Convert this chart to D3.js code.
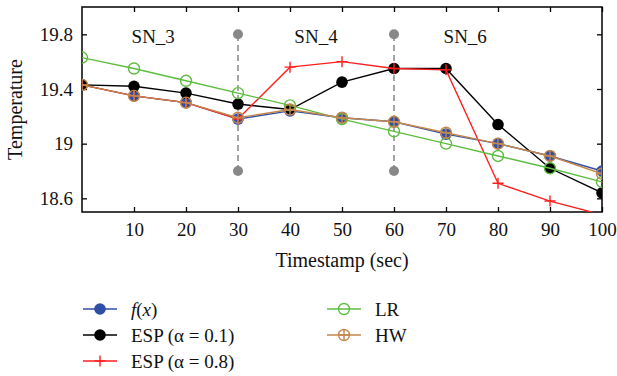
<!DOCTYPE html>
<html>
<head>
<meta charset="utf-8">
<script src="https://cdn.jsdelivr.net/npm/d3@7"></script>
<style>
body { margin: 0; background: #fff; }
svg { display: block; }
</style>
</head>
<body>
<svg id="chart" width="617" height="376"></svg>
<script>
const timestamps = [0, 10, 20, 30, 40, 50, 60, 70, 80, 90, 100];
const fx      = [19.43, 19.35, 19.30, 19.18, 19.24, 19.19, 19.16, 19.07, 19.00, 18.91, 18.80];
const esp01   = [19.43, 19.42, 19.37, 19.29, 19.25, 19.45, 19.55, 19.55, 19.14, 18.82, 18.64];
const esp08   = [19.43, 19.35, 19.30, 19.18, 19.56, 19.60, 19.55, 19.54, 18.71, 18.58, 18.48];
const lr      = [19.63, 19.55, 19.46, 19.37, 19.28, 19.18, 19.09, 19.00, 18.91, 18.82, 18.72];
const hw      = [19.43, 19.35, 19.30, 19.19, 19.25, 19.19, 19.16, 19.08, 19.00, 18.91, 18.78];
const xTicks  = [10, 20, 30, 40, 50, 60, 70, 80, 90, 100];
const yTicks  = [18.6, 19.0, 19.4, 19.8];
const sensorBounds = [30, 60];
const sensorRange = [18.8, 19.8];
const sensorLabels = ["SN_3", "SN_4", "SN_6"];
const sensorLabelX = [13.7, 45, 73.7];
const seriesNames = ["f(x)", "ESP (α = 0.1)", "ESP (α = 0.8)", "LR", "HW"];

const series = [
  { name: seriesNames[0], values: fx,    color: "#2f4fa6", marker: "dot" },
  { name: seriesNames[1], values: esp01, color: "#000000", marker: "dot" },
  { name: seriesNames[2], values: esp08, color: "#ff1f1f", marker: "plus" },
  { name: seriesNames[3], values: lr,    color: "#5dbd3f", marker: "circle" },
  { name: seriesNames[4], values: hw,    color: "#c4874d", marker: "oplus" }
];

const FONT = "Liberation Serif";
const svg = d3.select("#chart");
const m = { left: 82, right: 602, top: 7, bottom: 212 };
const x = d3.scaleLinear().domain([0, 100]).range([m.left, m.right]);
const y = d3.scaleLinear().domain([18.5, 20.0]).range([m.bottom, m.top]);
const fmt = d => d3.format("~g")(d);
const FS = 19;

svg.append("clipPath").attr("id", "clip").append("rect")
  .attr("x", m.left).attr("y", m.top).attr("width", m.right - m.left).attr("height", m.bottom - m.top);

// axes
const gx = svg.append("g").attr("transform", `translate(0,${m.bottom})`)
  .call(d3.axisBottom(x).tickValues(xTicks).tickSize(-5).tickPadding(11).tickFormat(fmt));
const gxt = svg.append("g").attr("transform", `translate(0,${m.top})`)
  .call(d3.axisTop(x).tickValues(xTicks).tickSize(-5).tickFormat(""));
const gy = svg.append("g").attr("transform", `translate(${m.left},0)`)
  .call(d3.axisLeft(y).tickValues(yTicks).tickSize(-5).tickPadding(9).tickFormat(fmt));
const gyr = svg.append("g").attr("transform", `translate(${m.right},0)`)
  .call(d3.axisRight(y).tickValues(yTicks).tickSize(-5).tickFormat(""));
[gx, gxt, gy, gyr].forEach(g => {
  g.attr("font-family", FONT).attr("font-size", FS);
  g.select(".domain").remove();
  g.selectAll(".tick line").attr("stroke", "#000").attr("stroke-width", 1.3);
  g.selectAll(".tick text").attr("fill", "#111").attr("font-family", FONT);
});
svg.append("rect").attr("x", m.left).attr("y", m.top)
  .attr("width", m.right - m.left).attr("height", m.bottom - m.top)
  .attr("fill", "none").attr("stroke", "#000").attr("stroke-width", 1.5);

// axis titles
svg.append("text").attr("x", (m.left + m.right) / 2).attr("y", 267)
  .attr("text-anchor", "middle").attr("font-size", 20).attr("font-family", FONT).attr("fill", "#111").text("Timestamp (sec)");
svg.append("text").attr("transform", `translate(22,${(m.top + m.bottom) / 2}) rotate(-90)`)
  .attr("text-anchor", "middle").attr("font-size", 20).attr("font-family", FONT).attr("fill", "#111").text("Temperature");

// sensor boundaries
sensorBounds.forEach(b => {
  svg.append("line").attr("x1", x(b)).attr("x2", x(b))
    .attr("y1", y(sensorRange[0])).attr("y2", y(sensorRange[1]))
    .attr("stroke", "#888").attr("stroke-width", 1.5).attr("stroke-dasharray", "6,4");
  sensorRange.forEach(v => svg.append("circle").attr("cx", x(b)).attr("cy", y(v)).attr("r", 5).attr("fill", "#888"));
});
sensorLabels.forEach((t, i) => {
  svg.append("text").attr("x", x(sensorLabelX[i])).attr("y", 43)
    .attr("text-anchor", "middle").attr("font-size", FS).attr("font-family", FONT).attr("fill", "#111").text(t);
});

function drawMarker(g, type, cx, cy, color) {
  if (type === "dot") {
    g.append("circle").attr("cx", cx).attr("cy", cy).attr("r", 5.8).attr("fill", color);
  } else if (type === "circle") {
    g.append("circle").attr("cx", cx).attr("cy", cy).attr("r", 5.5).attr("fill", "none").attr("stroke", color).attr("stroke-width", 1.4);
  } else if (type === "plus") {
    g.append("path").attr("d", `M${cx - 5.5},${cy}H${cx + 5.5}M${cx},${cy - 5.5}V${cy + 5.5}`).attr("stroke", color).attr("stroke-width", 1.4);
  } else if (type === "oplus") {
    g.append("circle").attr("cx", cx).attr("cy", cy).attr("r", 5.5).attr("fill", "none").attr("stroke", color).attr("stroke-width", 1.4);
    g.append("path").attr("d", `M${cx - 5.5},${cy}H${cx + 5.5}M${cx},${cy - 5.5}V${cy + 5.5}`).attr("stroke", color).attr("stroke-width", 1.4);
  }
}

const line = d3.line().x((d, i) => x(timestamps[i])).y(d => y(d));
const plot = svg.append("g").attr("clip-path", "url(#clip)");
series.forEach(s => {
  const g = plot.append("g");
  g.append("path").attr("d", line(s.values)).attr("fill", "none").attr("stroke", s.color).attr("stroke-width", 1.4);
  s.values.forEach((v, i) => {
    if (v >= 18.5) drawMarker(g, s.marker, x(timestamps[i]), y(v), s.color);
  });
});

// legend
const legPos = [[83, 309], [83, 335], [83, 361], [327, 309], [327, 335]];
series.forEach((s, i) => {
  const [lx, ly] = legPos[i];
  const g = svg.append("g");
  g.append("line").attr("x1", lx).attr("x2", lx + 34).attr("y1", ly).attr("y2", ly).attr("stroke", s.color).attr("stroke-width", 1.4);
  drawMarker(g, s.marker, lx + 17, ly, s.color);
  const t = g.append("text").attr("x", lx + 48).attr("y", ly).attr("dy", "0.35em")
    .attr("font-size", FS).attr("font-family", FONT).attr("fill", "#111");
  if (i === 0) {
    t.append("tspan").attr("font-style", "italic").text("f");
    t.append("tspan").text("(");
    t.append("tspan").attr("font-style", "italic").text("x");
    t.append("tspan").text(")");
  } else {
    t.text(s.name);
  }
});
</script>
</body>
</html>
